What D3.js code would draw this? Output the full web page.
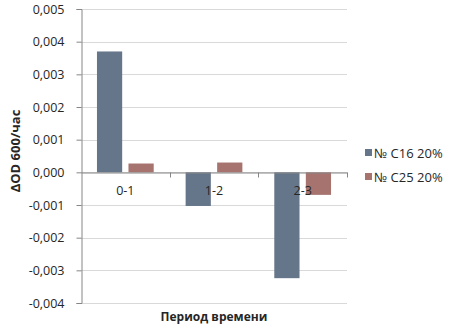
<!DOCTYPE html>
<html>
<head>
<meta charset="utf-8">
<script src="https://cdn.jsdelivr.net/npm/d3@7"></script>
<style>
  body { margin: 0; background: #fff; }
  text { font-family: "Open Sans", "Noto Sans", sans-serif; }
</style>
</head>
<body>
<div id="chart-area"></div>
<script>
// data
let categories = ["0-1", "1-2", "2-3"];
let seriesNames = ["№ C16 20%", "№ C25 20%"];
let c16Values = [0.0037, -0.00103, -0.00324];
let c25Values = [0.00027, 0.0003, -0.00069];
let yTicks = [0.005, 0.004, 0.003, 0.002, 0.001, 0, -0.001, -0.002, -0.003, -0.004];

let colors = ["#66768a", "#a6736f"];
let textColor = "#262626";

let margin = {top: 9, right: 104, bottom: 22, left: 81};
let width = 451 - margin.left - margin.right,
	height = 325 - margin.top - margin.bottom;

let svg = d3.select("#chart-area")
	.append("svg")
	.attr("width", 451)
	.attr("height", 325)
  .append("g")
	.attr("transform", "translate(" + margin.left + "," + margin.top + ")");

// scales
let x = d3.scaleBand()
	.domain(categories)
	.range([0, width]);

let x1 = d3.scaleBand()
	.domain(seriesNames)
	.range([x.bandwidth() * 0.18, x.bandwidth() * 0.82])
	.paddingInner(0.2);

let y = d3.scaleLinear()
	.domain([-0.004, 0.005])
	.range([height, 0]);

let fmt = d => d3.format(".3f")(d).replace(".", ",").replace("−", "-");

// gridlines
svg.selectAll(".grid")
	.data(yTicks)
	.enter().append("line")
	.attr("x1", 0)
	.attr("x2", width)
	.attr("y1", d => Math.round(y(d)) + 0.5)
	.attr("y2", d => Math.round(y(d)) + 0.5)
	.attr("stroke", "#d9d9d9");

// y axis
let yAxis = svg.append("g")
	.attr("transform", "translate(0.5,0)")
	.call(d3.axisLeft(y).tickValues(yTicks).tickFormat(fmt).tickSize(5).tickPadding(12));
yAxis.select(".domain").attr("stroke", "#868686");
yAxis.selectAll(".tick line").attr("stroke", "#868686");
yAxis.selectAll(".tick text")
	.style("font-size", "12.5px")
	.attr("fill", textColor);

// bars
let data = categories.map((c, i) => ({cat: c, values: [c16Values[i], c25Values[i]]}));

let groups = svg.selectAll(".group")
	.data(data)
	.enter().append("g")
	.attr("transform", d => "translate(" + x(d.cat) + ",0)");

groups.selectAll("rect")
	.data(d => d.values.map((v, j) => ({name: seriesNames[j], value: v, j: j})))
	.enter().append("rect")
	.attr("x", d => x1(d.name))
	.attr("width", x1.bandwidth())
	.attr("y", d => y(Math.max(0, d.value)))
	.attr("height", d => Math.abs(y(d.value) - y(0)))
	.attr("fill", d => colors[d.j]);

// x axis at zero
let zeroY = Math.round(y(0)) + 0.5;
let xAxis = svg.append("g")
	.attr("transform", "translate(0," + zeroY + ")")
	.call(d3.axisBottom(x).tickSize(0).tickPadding(14));
xAxis.select(".domain").attr("stroke", "#868686");
xAxis.selectAll(".tick text")
	.style("font-size", "12.5px")
	.attr("fill", textColor);

// category boundary tick marks
svg.selectAll(".xtick")
	.data(categories.slice(1).concat(["end"]))
	.enter().append("line")
	.attr("x1", d => Math.round(d === "end" ? width : x(d)) + 0.5)
	.attr("x2", d => Math.round(d === "end" ? width : x(d)) + 0.5)
	.attr("y1", zeroY)
	.attr("y2", zeroY + 5)
	.attr("stroke", "#868686");

// axis titles
svg.append("text")
	.attr("x", width / 2)
	.attr("y", height + 18)
	.attr("text-anchor", "middle")
	.style("font-size", "12px")
	.style("font-weight", "bold")
	.attr("fill", textColor)
	.text("Период времени");

svg.append("text")
	.attr("transform", "translate(" + (-61) + "," + (height / 2 - 5) + ") rotate(-90)")
	.attr("text-anchor", "middle")
	.style("font-size", "13px")
	.style("font-weight", "bold")
	.attr("fill", textColor)
	.text("ΔOD 600/час");

// legend
let legend = svg.selectAll(".legend")
	.data(seriesNames)
	.enter().append("g")
	.attr("transform", (d, i) => "translate(" + (width + 18) + "," + (144 + i * 24) + ")");

legend.append("rect")
	.attr("width", 7)
	.attr("height", 7)
	.attr("y", -4)
	.attr("fill", (d, i) => colors[i]);

legend.append("text")
	.attr("x", 9)
	.attr("y", 4.5)
	.style("font-size", "13px")
	.attr("fill", textColor)
	.text(d => d);
</script>
</body>
</html>
